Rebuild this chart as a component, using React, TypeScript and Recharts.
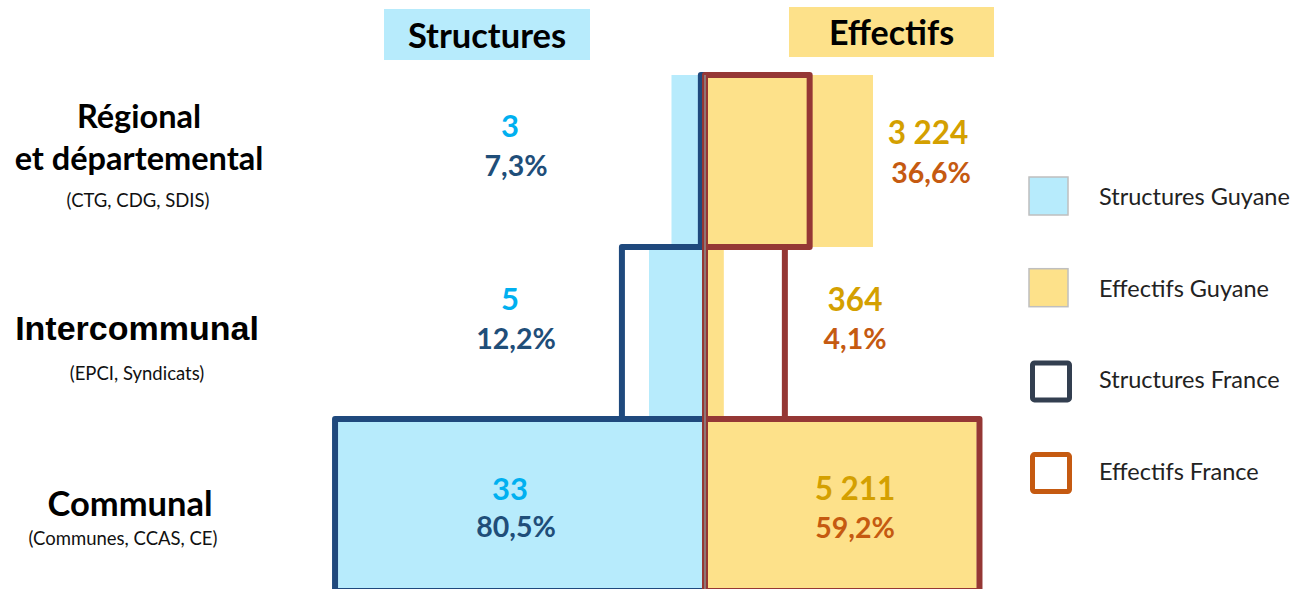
import React from 'react';
import { BarChart, Bar, XAxis, YAxis, ReferenceLine, LabelList, Legend } from 'recharts';

// ---------- data ----------
const categoryTitles = [['Régional', 'et départemental'], ['Intercommunal'], ['Communal']];
const categorySubtitles = ['(CTG, CDG, SDIS)', '(EPCI, Syndicats)', '(Communes, CCAS, CE)'];
const structuresGuyaneCount = [3, 5, 33];
const structuresGuyanePct = [7.3, 12.2, 80.5];
const effectifsGuyaneCount = [3224, 364, 5211];
const effectifsGuyanePct = [36.6, 4.1, 59.2];
const structuresFrancePct = [0.9, 18.1, 80.6];
const effectifsFrancePct = [22.8, 17.4, 59.8];
const seriesNames = ['Structures Guyane', 'Effectifs Guyane', 'Structures France', 'Effectifs France'];
const headerTitles = ['Structures', 'Effectifs'];

// ---------- styles ----------
const C = {
  lightBlue: '#B7EBFC',
  yellow: '#FDE18A',
  navy: '#1F497D',
  darkRed: '#953735',
  cyanText: '#00B0F0',
  navyText: '#1F4E79',
  goldText: '#D4A000',
  orangeText: '#C55A11',
  legendNavy: '#333F50',
  legendOrange: '#C55A11',
  axis: '#8C8C8C',
};
const FONT = 'Lato, "Open Sans", sans-serif';
const ARIAL = '"Liberation Sans", Arial, sans-serif';

const categories = categoryTitles.map((l) => l.join(' '));
const data = categories.map((cat, i) => ({
  cat,
  sG: -structuresGuyanePct[i],
  eG: effectifsGuyanePct[i],
  sF: -structuresFrancePct[i],
  eF: effectifsFrancePct[i],
}));

const fmtInt = (n: number) => String(n).replace(/\B(?=(\d{3})+(?!\d))/g, ' ');
const fmtPct = (n: number) => n.toFixed(1).replace('.', ',') + '%';

const getBox = (props: any) => {
  const vb = props.viewBox && props.viewBox.width !== undefined ? props.viewBox : props;
  const x = Number(vb.x), y = Number(vb.y), w = Number(vb.width), h = Number(vb.height);
  return { left: Math.min(x, x + w), right: Math.max(x, x + w), top: Math.min(y, y + h), bottom: Math.max(y, y + h) };
};
const getIndex = (props: any, key: string) => {
  if (typeof props.index === 'number') return props.index;
  return data.findIndex((d: any) => d[key] === props.value);
};

// label vertical offsets from band top (per row)
const structNumDy = [62, 63, 81];
const structPctDy = [101, 102, 118];
const effNumDy = [69, 64, 81];
const effPctDy = [108, 102, 119];

const StructLabel = (props: any) => {
  const i = getIndex(props, 'sG');
  if (i < 0) return null;
  const b = getBox(props);
  const zero = b.right;
  return (
    <g>
      <text x={zero - 195} y={b.top + structNumDy[i]} textAnchor="middle" fontFamily={FONT} fontWeight={700} fontSize={31} fill={C.cyanText}>
        {fmtInt(structuresGuyaneCount[i])}
      </text>
      <text x={zero - 189} y={b.top + structPctDy[i]} textAnchor="middle" fontFamily={FONT} fontWeight={700} fontSize={28.5} fill={C.navyText}>
        {fmtPct(structuresGuyanePct[i])}
      </text>
    </g>
  );
};

const EffLabel = (props: any) => {
  const i = getIndex(props, 'eG');
  if (i < 0) return null;
  const b = getBox(props);
  const outside = i === 0;
  const numX = outside ? b.right + 55 : b.left + 150;
  const pctX = outside ? b.right + 58 : b.left + 150;
  return (
    <g>
      <text x={numX} y={b.top + effNumDy[i]} textAnchor="middle" fontFamily={FONT} fontWeight={700} fontSize={31.5} fill={C.goldText}>
        {fmtInt(effectifsGuyaneCount[i])}
      </text>
      <text x={pctX} y={b.top + effPctDy[i]} textAnchor="middle" fontFamily={FONT} fontWeight={700} fontSize={28.5} fill={C.orangeText}>
        {fmtPct(effectifsGuyanePct[i])}
      </text>
    </g>
  );
};

// row label layout
const rowLayouts = [
  { titleX: 139, titleDy: [-33, 9], titleFont: FONT, titleSize: 32.5, subX: 138, subDy: 46 },
  { titleX: 137, titleDy: [7], titleFont: ARIAL, titleSize: 34, subX: 137, subDy: 47 },
  { titleX: 130, titleDy: [11], titleFont: FONT, titleSize: 34.5, subX: 123, subDy: 40 },
];

const RowLabel = (props: any) => {
  const { y, payload } = props;
  let i = typeof props.index === 'number' ? props.index : categories.indexOf(payload?.value);
  if (i < 0) i = categories.indexOf(payload?.value);
  if (i < 0) return null;
  const L = rowLayouts[i];
  return (
    <g>
      {categoryTitles[i].map((line, k) => (
        <text key={k} x={L.titleX} y={y + L.titleDy[k]} textAnchor="middle" fontFamily={L.titleFont} fontWeight={700} fontSize={L.titleSize} fill="#000">
          {line}
        </text>
      ))}
      <text x={L.subX} y={y + L.subDy} textAnchor="middle" fontFamily={FONT} fontSize={18.5} fill="#111">
        {categorySubtitles[i]}
      </text>
    </g>
  );
};

const legendStyles = [
  { kind: 'fill', color: C.lightBlue },
  { kind: 'fill', color: C.yellow },
  { kind: 'outline', color: C.legendNavy },
  { kind: 'outline', color: C.legendOrange },
];

const LegendContent = () => (
  <svg width={274} height={340} style={{ display: 'block' }}>
    {seriesNames.map((name, i) => {
      const st = legendStyles[i];
      const top = 7 + i * 91.7;
      return (
        <g key={name}>
          {st.kind === 'fill' ? (
            <rect x={9} y={top} width={39} height={38} fill={st.color} stroke="#BFBFBF" strokeWidth={1.5} />
          ) : (
            <rect x={12.5} y={top + 2.5} width={37} height={37} fill="none" stroke={st.color} strokeWidth={5} rx={2} />
          )}
          <text x={79} y={top + 28} fontFamily={FONT} fontSize={23.5} fill="#222">
            {name}
          </text>
        </g>
      );
    })}
  </svg>
);

export default function App() {
  return (
    <div style={{ position: 'absolute', left: 0, top: 0, width: 1294, height: 589, overflow: 'hidden', background: '#fff', fontFamily: FONT }}>
      <div style={{ position: 'absolute', left: 384, top: 9, width: 206, height: 51, background: C.lightBlue, textAlign: 'center', lineHeight: '52px', fontSize: 34.5, fontWeight: 700, color: '#000' }}>
        {headerTitles[0]}
      </div>
      <div style={{ position: 'absolute', left: 789, top: 7, width: 205, height: 50, background: C.yellow, textAlign: 'center', lineHeight: '50px', fontSize: 34, fontWeight: 700, color: '#000' }}>
        {headerTitles[1]}
      </div>
      <div style={{ position: 'absolute', left: 0, top: 0 }}>
        <BarChart
          width={1294}
          height={595}
          data={data}
          layout="vertical"
          stackOffset="sign"
          barCategoryGap={0}
          barGap={0}
          margin={{ top: 75, right: 130, bottom: 4, left: 0 }}
        >
          <XAxis type="number" domain={[-100, 100]} hide allowDataOverflow />
          <YAxis yAxisId="g" type="category" dataKey="cat" width={246} axisLine={false} tickLine={false} interval={0} tick={<RowLabel />} />
          <YAxis yAxisId="f" type="category" dataKey="cat" hide />
          <Bar yAxisId="g" dataKey="sG" name={seriesNames[0]} stackId="g" fill={C.lightBlue} isAnimationActive={false}>
            <LabelList dataKey="sG" content={StructLabel} />
          </Bar>
          <Bar yAxisId="g" dataKey="eG" name={seriesNames[1]} stackId="g" fill={C.yellow} isAnimationActive={false}>
            <LabelList dataKey="eG" content={EffLabel} />
          </Bar>
          <Bar yAxisId="f" dataKey="sF" name={seriesNames[2]} stackId="f" fill="none" stroke={C.navy} strokeWidth={6} strokeLinejoin="round" isAnimationActive={false} />
          <Bar yAxisId="f" dataKey="eF" name={seriesNames[3]} stackId="f" fill="none" stroke={C.darkRed} strokeWidth={6} strokeLinejoin="round" isAnimationActive={false} />
          <ReferenceLine yAxisId="g" x={0} stroke={C.axis} strokeWidth={1.5} />
          <Legend
            layout="vertical"
            align="center"
            verticalAlign="middle"
            wrapperStyle={{ left: 1020, top: 170, width: 274 }}
            content={<LegendContent />}
          />
        </BarChart>
      </div>
    </div>
  );
}
